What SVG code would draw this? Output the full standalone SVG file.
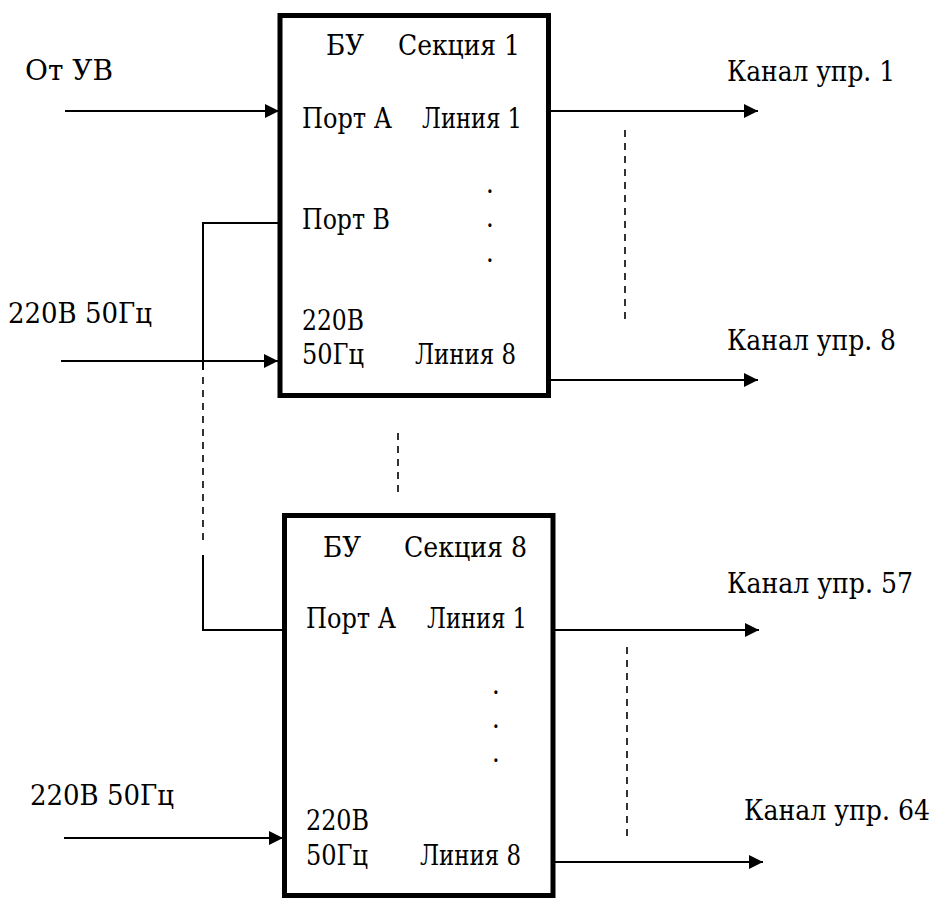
<svg xmlns="http://www.w3.org/2000/svg" width="936" height="900" viewBox="0 0 936 900">
<style>
text{font-family:"DejaVu Serif Condensed","DejaVu Serif","Liberation Serif",serif;font-size:27px;fill:#000}
.box{fill:#fff;stroke:#000;stroke-width:5}
.ln{fill:none;stroke:#000;stroke-width:2}
.dash{fill:none;stroke:#000;stroke-width:1.6;stroke-dasharray:7 6}
</style>
<defs>
<marker id="arr" viewBox="0 0 14 14" refX="14" refY="7" markerWidth="14" markerHeight="14" markerUnits="userSpaceOnUse" orient="auto">
<path d="M0,0 L14,7 L0,14 Z" fill="#000"/>
</marker>
</defs>
<rect width="936" height="900" fill="#fff"/>
<g id="labels">
<text x="25" y="80" textLength="88" lengthAdjust="spacingAndGlyphs">От УВ</text>
<text x="8" y="323" textLength="144" lengthAdjust="spacingAndGlyphs">220В 50Гц</text>
<text x="30" y="805" textLength="144" lengthAdjust="spacingAndGlyphs">220В 50Гц</text>
<text x="727" y="81" textLength="168" lengthAdjust="spacingAndGlyphs">Канал упр. 1</text>
<text x="727" y="350" textLength="169" lengthAdjust="spacingAndGlyphs">Канал упр. 8</text>
<text x="727" y="593" textLength="186" lengthAdjust="spacingAndGlyphs">Канал упр. 57</text>
<text x="744" y="820" textLength="186" lengthAdjust="spacingAndGlyphs">Канал упр. 64</text>
</g>
<g id="section1">
<rect class="box" x="280" y="15.5" width="268.5" height="380"/>
<text x="326" y="55" textLength="38" lengthAdjust="spacingAndGlyphs">БУ</text>
<text x="398" y="55" textLength="122" lengthAdjust="spacingAndGlyphs">Секция 1</text>
<text x="302" y="128" textLength="90" lengthAdjust="spacingAndGlyphs">Порт А</text>
<text x="422" y="128" textLength="100" lengthAdjust="spacingAndGlyphs">Линия 1</text>
<text x="302" y="229" textLength="88" lengthAdjust="spacingAndGlyphs">Порт В</text>
<text x="486" y="193">.</text>
<text x="486" y="227">.</text>
<text x="486" y="262">.</text>
<text x="302" y="330" textLength="62" lengthAdjust="spacingAndGlyphs">220В</text>
<text x="302" y="364" textLength="62" lengthAdjust="spacingAndGlyphs">50Гц</text>
<text x="415" y="364" textLength="101" lengthAdjust="spacingAndGlyphs">Линия 8</text>
</g>
<g id="section8">
<rect class="box" x="284.5" y="515.5" width="268.5" height="380"/>
<text x="323" y="557" textLength="38" lengthAdjust="spacingAndGlyphs">БУ</text>
<text x="404" y="557" textLength="123" lengthAdjust="spacingAndGlyphs">Секция 8</text>
<text x="306" y="628" textLength="90" lengthAdjust="spacingAndGlyphs">Порт А</text>
<text x="427" y="628" textLength="100" lengthAdjust="spacingAndGlyphs">Линия 1</text>
<text x="492" y="694">.</text>
<text x="492" y="728">.</text>
<text x="492" y="762">.</text>
<text x="306" y="830" textLength="63" lengthAdjust="spacingAndGlyphs">220В</text>
<text x="306" y="865" textLength="62" lengthAdjust="spacingAndGlyphs">50Гц</text>
<text x="420" y="865" textLength="101" lengthAdjust="spacingAndGlyphs">Линия 8</text>
</g>
<g id="connectors">
<line class="ln" x1="65" y1="111" x2="279" y2="111" marker-end="url(#arr)"/>
<line class="ln" x1="61" y1="361" x2="278" y2="361" marker-end="url(#arr)"/>
<line class="ln" x1="64" y1="838" x2="283" y2="838" marker-end="url(#arr)"/>
<line class="ln" x1="550" y1="111" x2="758" y2="111" marker-end="url(#arr)"/>
<line class="ln" x1="550" y1="380" x2="758" y2="380" marker-end="url(#arr)"/>
<line class="ln" x1="555" y1="630" x2="759" y2="630" marker-end="url(#arr)"/>
<line class="ln" x1="555" y1="862" x2="763" y2="862" marker-end="url(#arr)"/>
<polyline class="ln" points="278,223 203,223 203,370"/>
<line class="dash" x1="203" y1="377" x2="203" y2="540"/>
<polyline class="ln" points="203,555 203,630 283,630"/>
<line class="dash" x1="398" y1="433" x2="398" y2="495"/>
<line class="dash" x1="625" y1="130" x2="625" y2="320"/>
<line class="dash" x1="627" y1="647" x2="627" y2="838"/>
</g>
</svg>
